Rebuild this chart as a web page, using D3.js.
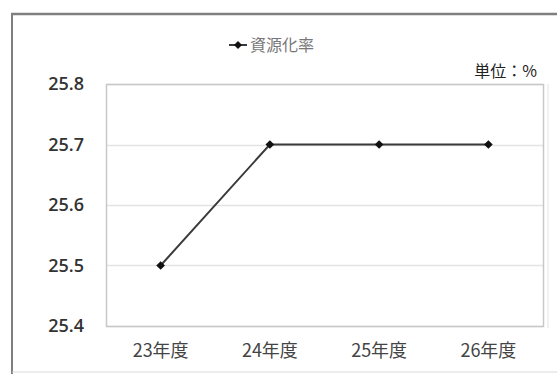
<!DOCTYPE html>
<html>
<head>
<meta charset="utf-8">
<script src="https://cdn.jsdelivr.net/npm/d3@7"></script>
<style>
  html, body { margin: 0; padding: 0; background: #fff; }
  svg { display: block; }
</style>
</head>
<body>
<svg id="chart" width="557" height="374"></svg>
<script>
// Recycling rate by fiscal year (%)
const categories = ["23年度", "24年度", "25年度", "26年度"];
const rates = [25.5, 25.7, 25.7, 25.7];
const yTicks = [25.4, 25.5, 25.6, 25.7, 25.8];
const seriesName = "資源化率";
const unitLabel = "単位：%";

const svg = d3.select("#chart");
const W = 557, H = 374;
const plot = { left: 106, right: 543, top: 84, bottom: 326 };

// Outer chart frame
svg.append("rect").attr("x", 0).attr("y", 0).attr("width", W).attr("height", H).attr("fill", "#fff");
svg.append("line").attr("x1", 11).attr("x2", W).attr("y1", 14).attr("y2", 14)
  .attr("stroke", "#7f7f7f").attr("stroke-width", 2.5);
svg.append("line").attr("x1", 12).attr("x2", 12).attr("y1", 13).attr("y2", H)
  .attr("stroke", "#7f7f7f").attr("stroke-width", 2);
svg.append("line").attr("x1", 12).attr("x2", W).attr("y1", 372).attr("y2", 372)
  .attr("stroke", "#d9d9d9").attr("stroke-width", 1);

const x = d3.scaleBand().domain(categories).range([plot.left, plot.right]);
const y = d3.scaleLinear().domain([25.4, 25.8]).range([plot.bottom, plot.top]);

// Horizontal gridlines
svg.append("g")
  .selectAll("line")
  .data(yTicks)
  .join("line")
  .attr("x1", plot.left).attr("x2", plot.right)
  .attr("y1", d => Math.round(y(d)) + 0.5).attr("y2", d => Math.round(y(d)) + 0.5)
  .attr("stroke", "#e3e3e3").attr("stroke-width", 1.5);

// Plot-area frame
svg.append("rect")
  .attr("x", plot.left + 0.5).attr("y", plot.top + 0.5)
  .attr("width", plot.right - plot.left).attr("height", plot.bottom - plot.top)
  .attr("fill", "none").attr("stroke", "#c8c8c8").attr("stroke-width", 1.5);
svg.append("line")
  .attr("x1", plot.right + 5).attr("x2", plot.right + 5)
  .attr("y1", plot.top).attr("y2", plot.bottom + 2)
  .attr("stroke", "#ececec").attr("stroke-width", 1.5);

// Y axis labels
const yAxis = d3.axisLeft(y).tickValues(yTicks).tickFormat(d3.format(".1f")).tickSize(0).tickPadding(22);
const gy = svg.append("g").attr("transform", `translate(${plot.left},0)`).call(yAxis);
gy.select(".domain").remove();
gy.selectAll("text")
  .attr("font-family", "'Open Sans', 'DejaVu Sans', sans-serif")
  .attr("font-size", 18).attr("font-weight", 600).attr("fill", "#333");

// X axis labels
const xAxis = d3.axisBottom(x).tickSize(0).tickPadding(18);
const gx = svg.append("g").attr("transform", `translate(0,${plot.bottom})`).call(xAxis);
gx.select(".domain").remove();
gx.selectAll("text")
  .attr("font-family", "'Noto Sans CJK JP', sans-serif")
  .attr("font-size", 18).attr("fill", "#444");

// Series line and markers
const pts = categories.map((c, i) => [x(c) + x.bandwidth() / 2, y(rates[i])]);
svg.append("path")
  .datum(pts)
  .attr("d", d3.line())
  .attr("fill", "none").attr("stroke", "#3a3a3a").attr("stroke-width", 2);

const marker = d3.symbol().type(d3.symbolSquare).size(38);
svg.append("g")
  .selectAll("path")
  .data(pts)
  .join("path")
  .attr("transform", d => `translate(${d[0]},${d[1]}) rotate(45)`)
  .attr("d", marker)
  .attr("fill", "#111");

// Legend
const lg = svg.append("g").attr("transform", "translate(229,45)");
lg.append("line").attr("x1", 0).attr("x2", 18).attr("y1", 0).attr("y2", 0)
  .attr("stroke", "#3a3a3a").attr("stroke-width", 2);
lg.append("path").attr("transform", "translate(9,0) rotate(45)")
  .attr("d", d3.symbol().type(d3.symbolSquare).size(32)).attr("fill", "#111");
lg.append("text").attr("x", 21).attr("y", 6)
  .attr("font-family", "'Noto Sans CJK JP', sans-serif")
  .attr("font-size", 16).attr("fill", "#777").text(seriesName);

// Unit note
svg.append("text").attr("x", 537).attr("y", 77).attr("text-anchor", "end")
  .attr("font-family", "'Noto Sans CJK JP', sans-serif")
  .attr("font-size", 16).attr("fill", "#222").text(unitLabel);
</script>
</body>
</html>
